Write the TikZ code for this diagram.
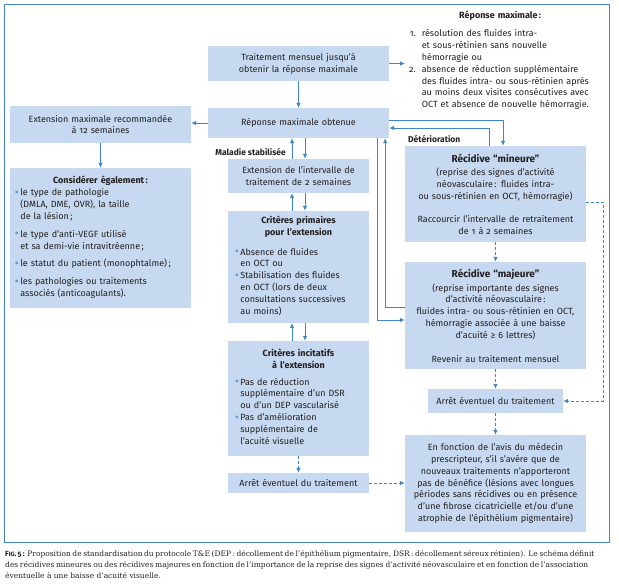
\documentclass[tikz,border=0pt]{standalone}
\usepackage{fontspec}
\setmainfont{DejaVu Serif}
\newfontfamily\boxfont[Numbers=OldStyle]{Fira Sans}
\usetikzlibrary{arrows.meta}

\definecolor{boxblue}{RGB}{198,217,240}
\definecolor{lineblue}{RGB}{64,134,196}
\definecolor{inkgray}{RGB}{35,31,32}

\newcommand{\puce}{\textcolor{lineblue!85}{\raisebox{-0.6pt}{\fontsize{12}{12}\selectfont\textbullet}}}
\newcommand{\titre}{\bfseries\fontsize{10}{12}\selectfont}

\begin{document}
\begin{tikzpicture}[
  x=1pt,y=-1pt,
  >={Latex[length=5pt,width=4.5pt]},
  box/.style={fill=boxblue,inner sep=0pt,align=center,text=inkgray,
    font=\boxfont\fontsize{9}{11.8}\selectfont},
  link/.style={->,line width=0.8pt,lineblue},
  maybe/.style={link,dash pattern=on 3pt off 2pt},
  tag/.style={inner sep=0pt,text=inkgray,
    font=\boxfont\bfseries\fontsize{8.5}{10}\selectfont}
]
  \useasboundingbox (0,0) rectangle (619,587);

  % Frame round the whole scheme.
  \draw[lineblue,line width=0.7pt] (4,4) rectangle (609,542);

  % Central column: from monthly treatment to the extension criteria.
  \node[box,minimum width=181pt,minimum height=35pt,text width=170pt]
    (Mensuel) at (298.5,63.5) {Traitement mensuel jusqu’à\\obtenir la réponse maximale};
  \node[box,minimum width=181pt,minimum height=30pt,text width=170pt]
    (Obtenue) at (298.5,123) {Réponse maximale obtenue};
  \node[box,minimum width=141pt,minimum height=34pt,text width=130pt]
    (Ext2) at (298.5,176) {Extension de l’intervalle de\\traitement de 2 semaines};
  \node[box,minimum width=141pt,minimum height=112pt,text width=127pt]
    (Prim) at (298.5,267) {\textbf{Critères primaires\\pour l’extension}\\[8pt]
    \makebox[127pt][l]{\begin{tabular}{@{}l@{\hspace{1.5pt}}l@{}}
      \puce & Absence de fluides\\
            & en OCT ou\\
      \puce & Stabilisation des fluides\\
            & en OCT (lors de deux\\
            & consultations successives\\
            & au moins)
    \end{tabular}}};
  \node[box,minimum width=141pt,minimum height=115pt,text width=127pt]
    (Incit) at (298.5,398.5) {\textbf{Critères incitatifs\\à l’extension}\\[7pt]
    \makebox[127pt][l]{\begin{tabular}{@{}l@{\hspace{1.5pt}}l@{}}
      \puce & Pas de réduction\\
            & supplémentaire d’un DSR\\
            & ou d’un DEP vascularisé\\
      \puce & Pas d’amélioration\\
            & supplémentaire de\\
            & l’acuité visuelle
    \end{tabular}}};
  \node[box,minimum width=141pt,minimum height=20pt,text width=135pt]
    (Arret1) at (298.5,483) {Arrêt éventuel du traitement};

  % Left column.
  \node[box,minimum width=181pt,minimum height=37pt,text width=170pt]
    (ExtMax) at (100.5,124.5) {Extension maximale recommandée\\à 12 semaines};
  \node[box,minimum width=181pt,minimum height=140pt,text width=171pt]
    (Considerer) at (100.5,238) {\textbf{Considérer également\,:}\\[1pt]
    \makebox[171pt][l]{\begin{tabular}{@{}l@{\hspace{1.5pt}}l@{}}
      \puce & le type de pathologie\\
            & (DMLA, DME, OVR), la taille\\
            & de la lésion\,;\\[6pt]
      \puce & le type d’anti-VEGF utilisé\\
            & et sa demi-vie intravitréenne\,;\\[6pt]
      \puce & le statut du patient (monophtalme)\,;\\[6pt]
      \puce & les pathologies ou traitements\\
            & associés (anticoagulants).
    \end{tabular}}};

  % Right column: definition and the two kinds of recurrence.
  \node[anchor=north west,inner sep=0pt,text width=190pt,align=center,text=inkgray,
    font=\boxfont\fontsize{9}{11.8}\selectfont]
    (RepMax) at (405,11) {\textbf{Réponse maximale\,:}\\[7pt]
    \makebox[190pt][l]{\hspace{4pt}\begin{tabular}{@{}r@{\hspace{6pt}}l@{}}
      1. & résolution des fluides intra-\\
         & et sous-rétinien sans nouvelle\\
         & hémorragie ou\\
      2. & absence de réduction supplémentaire\\
         & des fluides intra- ou sous-rétinien après\\
         & au moins deux visites consécutives avec\\
         & OCT et absence de nouvelle hémorragie.
    \end{tabular}}};
  \node[box,minimum width=181pt,minimum height=96pt,text width=175pt]
    (Mineure) at (495.5,194) {{\titre Récidive “mineure”}\\[2pt]
    (reprise des signes d’activité\\néovasculaire\,: fluides intra-\\
    ou sous-rétinien en OCT, hémorragie)\\[11pt]
    Raccourcir l’intervalle de retraitement\\de 1 à 2 semaines};
  \node[box,minimum width=181pt,minimum height=107pt,text width=175pt]
    (Majeure) at (495.5,315.5) {{\titre Récidive “majeure”}\\[2pt]
    (reprise importante des signes\\d’activité néovasculaire\,:\\
    fluides intra- ou sous-rétinien en OCT,\\hémorragie associée à une baisse\\
    d’acuité ≥ 6 lettres)\\[12pt]
    Revenir au traitement mensuel};
  \node[box,minimum width=135pt,minimum height=24pt,text width=130pt]
    (Arret2) at (495.5,401) {Arrêt éventuel du traitement};
  \node[box,minimum width=181pt,minimum height=97pt,text width=175pt]
    (Avis) at (495.5,483.5) {En fonction de l’avis du médecin\\
    prescripteur, s’il s’avère que de\\nouveaux traitements n’apporteront\\
    pas de bénéfice (lésions avec longues\\périodes sans récidives ou en présence\\
    d’une fibrose cicatricielle et/ou d’une\\atrophie de l’épithélium pigmentaire)};

  \node[tag,anchor=east] (Stable) at (286,152) {Maladie stabilisée};
  \node[tag,anchor=west] (Deterio) at (408,139) {Détérioration};

  % Solid connectors.
  \draw[link] (Mensuel) -- (Obtenue);
  \draw[link] (Mensuel.east) -- (Mensuel.east -| RepMax.west);
  \draw[link] (Obtenue.west) -- (Obtenue.west -| ExtMax.east);
  \draw[link] (ExtMax) -- (Considerer);
  \draw[link] ([xshift=-6.5pt]Ext2.north) -- ([xshift=-6.5pt]Obtenue.south);
  \draw[link] ([xshift=6.5pt]Obtenue.south) -- ([xshift=6.5pt]Ext2.north);
  \draw[link] ([xshift=-6.5pt]Prim.north) -- ([xshift=-6.5pt]Ext2.south);
  \draw[link] ([xshift=6.5pt]Ext2.south) -- ([xshift=6.5pt]Prim.north);
  \draw[link] ([xshift=-6.5pt]Incit.north) -- ([xshift=-6.5pt]Prim.south);
  \draw[link] ([xshift=6.5pt]Prim.south) -- ([xshift=6.5pt]Incit.north);
  \draw[link] ([yshift=3pt]Obtenue.east) -| ([xshift=7.5pt]Mineure.north);
  \draw[link] ([xshift=-6.5pt]Mineure.north) |- ([yshift=-5pt]Obtenue.east);
  \draw[link] ([xshift=-12pt]Obtenue.south east) |- ([yshift=-4.5pt]Majeure.west);
  \draw[link] ([yshift=8.5pt]Majeure.west) -| ([xshift=-4pt]Obtenue.south east);

  % Dashed connectors towards stopping the treatment.
  \draw[maybe] (Incit) -- (Arret1);
  \draw[maybe] (Arret1.east) -- (Arret1.east -| Avis.west);
  \draw[maybe] (Mineure) -- (Majeure);
  \draw[maybe] (Majeure) -- (Arret2);
  \draw[maybe] (Arret2) -- (Avis);
  \draw[maybe] ([yshift=-8pt]Mineure.east) -- ++(17,0) |- (Arret2.east);

  % Caption.
  \node[anchor=north west,inner sep=0pt,align=left,text=inkgray,
    font=\fontsize{7.5}{11}\selectfont] (Legende) at (5,550)
    {\makebox[583pt][s]{{\boxfont\bfseries F{\fontsize{6.2}{11}\selectfont IG}. 5\,:}
      Proposition de standardisation du protocole T\&E (DEP\,: décollement de l’épithélium pigmentaire, DSR\,: décollement séreux rétinien). Le schéma définit}\\
     \makebox[583pt][s]{des récidives mineures ou des récidives majeures en fonction de l’importance de la reprise des signes d’activité néovasculaire et en fonction de l’association}\\
     éventuelle à une baisse d’acuité visuelle.};
\end{tikzpicture}
\end{document}
